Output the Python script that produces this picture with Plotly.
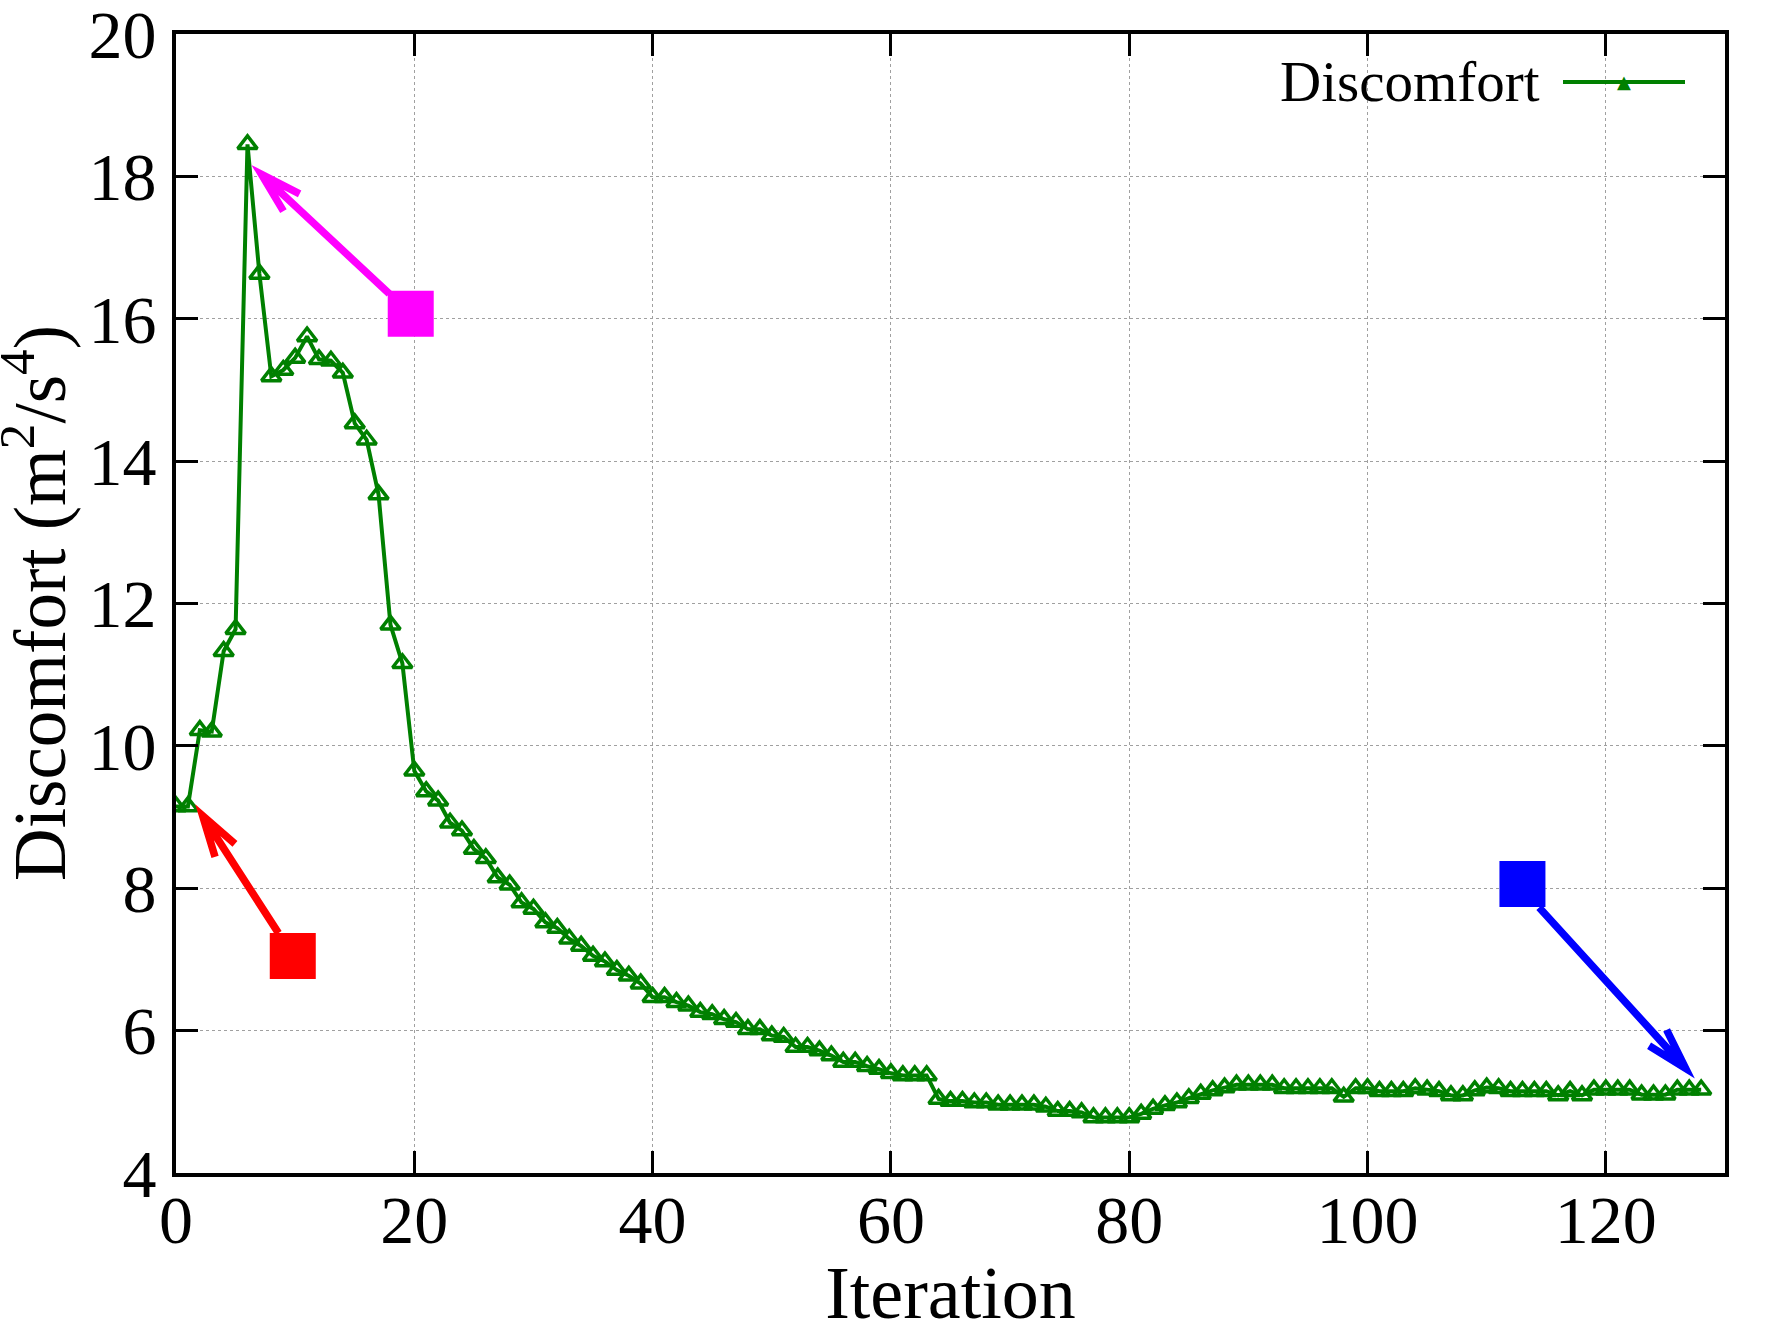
import math
import plotly.graph_objects as go

# ---- data ----
iterations = list(range(0, 129))
discomfort = [
    9.15, 9.15, 10.22, 10.20, 11.33, 11.64, 18.45, 16.63, 15.19, 15.28,
    15.45, 15.75, 15.43, 15.41, 15.24, 14.53, 14.30, 13.53, 11.70, 11.16,
    9.65, 9.36, 9.23, 8.92, 8.81, 8.55, 8.42, 8.15, 8.05, 7.80,
    7.71, 7.52, 7.44, 7.29, 7.19, 7.05, 6.97, 6.85, 6.77, 6.66,
    6.47, 6.47, 6.40, 6.35, 6.26, 6.23, 6.16, 6.12, 6.02, 6.02,
    5.93, 5.91, 5.77, 5.77, 5.72, 5.65, 5.56, 5.56, 5.50, 5.46,
    5.40, 5.37, 5.37, 5.37, 5.04, 5.01, 5.01, 4.99, 4.99, 4.96,
    4.96, 4.96, 4.96, 4.93, 4.87, 4.87, 4.85, 4.78, 4.78, 4.78,
    4.78, 4.83, 4.90, 4.95, 4.99, 5.05, 5.11, 5.16, 5.20, 5.24,
    5.24, 5.24, 5.24, 5.19, 5.19, 5.19, 5.19, 5.19, 5.07, 5.19,
    5.19, 5.15, 5.15, 5.15, 5.19, 5.17, 5.15, 5.09, 5.09, 5.16,
    5.20, 5.19, 5.15, 5.15, 5.15, 5.15, 5.09, 5.15, 5.09, 5.17,
    5.17, 5.17, 5.17, 5.10, 5.10, 5.10, 5.17, 5.17, 5.17,
]

x_ticks = [0, 20, 40, 60, 80, 100, 120]
y_ticks = [4, 6, 8, 10, 12, 14, 16, 18, 20]

# annotation squares (centre positions) and arrows (tail -> tip), data units
square_x = [19.7, 9.8, 113.0]
square_y = [16.07, 7.05, 8.06]
square_colors = ["#ff00ff", "#ff0000", "#0000ff"]
arrow_tail_x = [17.9, 8.6, 114.4]
arrow_tail_y = [16.35, 7.37, 7.73]
arrow_tip_x = [7.16, 2.23, 126.7]
arrow_tip_y = [18.03, 9.02, 5.47]

# ---- layout geometry ----
W, H = 1778, 1334
ML, MR, MT, MB = 176, 53, 34, 161
XR = [0, 130]
YR = [4, 20]
plot_w = W - ML - MR
plot_h = H - MT - MB
ppx = plot_w / (XR[1] - XR[0])
ppy = plot_h / (YR[1] - YR[0])

GREEN = "#008000"
FONT = "Liberation Serif"

fig = go.Figure()

fig.add_trace(go.Scatter(
    x=iterations, y=discomfort, mode="lines+markers", name="Discomfort",
    line=dict(color=GREEN, width=4),
    marker=dict(symbol="triangle-up-open", size=17, color=GREEN,
                line=dict(color=GREEN, width=3.5)),
    showlegend=False,
))

fig.add_trace(go.Scatter(
    x=square_x, y=square_y, mode="markers",
    marker=dict(symbol="square", size=46, color=square_colors, line=dict(width=0)),
    showlegend=False,
))

# arrows with open V heads
head_len = 43
head_ang = math.radians(16)
for tx, ty, hx, hy, col in zip(arrow_tail_x, arrow_tail_y, arrow_tip_x, arrow_tip_y, square_colors):
    dx = (tx - hx) * ppx
    dy = (ty - hy) * ppy
    L = math.hypot(dx, dy)
    ux, uy = dx / L, dy / L
    wings = []
    for s in (1, -1):
        ca, sa = math.cos(s * head_ang), math.sin(s * head_ang)
        rx = ux * ca - uy * sa
        ry = ux * sa + uy * ca
        wings.append((hx + rx * head_len / ppx, hy + ry * head_len / ppy))
    path = (f"M {tx},{ty} L {hx},{hy} "
            f"M {wings[0][0]},{wings[0][1]} L {hx},{hy} L {wings[1][0]},{wings[1][1]}")
    fig.add_shape(type="path", path=path, xref="x", yref="y",
                  line=dict(color=col, width=7.5), layer="above")

# helpers: page pixel -> paper coordinates
def px_x(p):
    return (p - ML) / plot_w

def px_y(p):
    return 1 - (p - MT) / plot_h

# custom gnuplot-style legend (text, then sample)
leg_y = px_y(82)
fig.add_annotation(x=px_x(1542), y=leg_y, xref="paper", yref="paper",
                   text="Discomfort", showarrow=False, xanchor="right", yanchor="middle",
                   font=dict(family=FONT, size=57, color="black"))
fig.add_shape(type="line", xref="paper", yref="paper",
              x0=px_x(1563), x1=px_x(1685), y0=leg_y, y1=leg_y,
              line=dict(color=GREEN, width=4))
fig.add_annotation(x=px_x(1624), y=leg_y, xref="paper", yref="paper",
                   text="▲", showarrow=False, xanchor="center", yanchor="middle",
                   font=dict(family="DejaVu Sans", size=18, color=GREEN))

# y-axis title placed explicitly
fig.add_annotation(x=px_x(34), y=px_y(603), xref="paper", yref="paper",
                   text="Discomfort (m<sup>2</sup>/s<sup>4</sup>)", textangle=-90,
                   showarrow=False, xanchor="center", yanchor="middle",
                   font=dict(family=FONT, size=73, color="black"))

axis_common = dict(
    showline=True, linewidth=4, linecolor="black", mirror="ticks",
    ticks="inside", ticklen=22, tickwidth=3, tickcolor="black",
    showgrid=True, gridcolor="#a0a0a0", gridwidth=1, griddash="3px,3px",
    zeroline=False, ticklabeloverflow="allow",
    tickfont=dict(family=FONT, size=68, color="black"),
)

fig.update_xaxes(range=XR, tickvals=x_ticks, ticktext=[str(v) for v in x_ticks],
                 title=dict(text="Iteration", font=dict(family=FONT, size=74, color="black"),
                            standoff=10),
                 ticklabelstandoff=-16, **axis_common)
fig.update_yaxes(range=YR, tickvals=y_ticks, ticktext=[str(v) for v in y_ticks],
                 ticklabelstandoff=2, **axis_common)

fig.update_layout(
    width=W, height=H,
    margin=dict(l=ML, r=MR, t=MT, b=MB, autoexpand=False),
    paper_bgcolor="white", plot_bgcolor="white",
)

fig.write_html("out.html", config={"displayModeBar": False},
               post_script="document.body.style.margin='0px';")
